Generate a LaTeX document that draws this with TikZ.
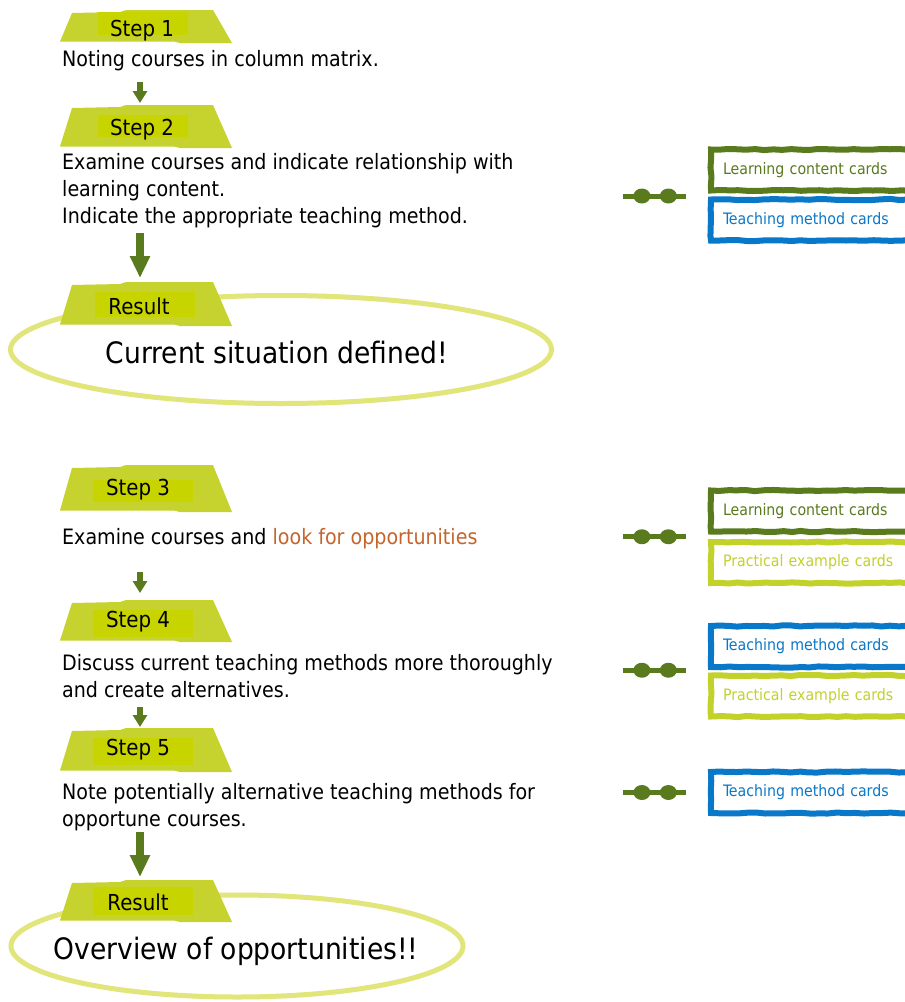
\documentclass[tikz,border=0pt]{standalone}
\usepackage{fontspec}
\setmainfont{DejaVu Sans Condensed}
\usetikzlibrary{arrows.meta,shapes.geometric,decorations.pathmorphing,decorations.markings,calc}
\definecolor{trapc}{HTML}{C6D22E}
\definecolor{innerc}{HTML}{C8D400}
\definecolor{dgreen}{HTML}{5A7A1E}
\definecolor{bluec}{HTML}{0A78C8}
\definecolor{yelc}{HTML}{C3D12B}
\definecolor{orangec}{HTML}{C5652B}
\definecolor{ellc}{HTML}{E2E57A}
\newcommand\trapbg[6]{%
  \fill[trapc] (72,{#1+3}) -- (120,{#1+2}) -- (126,#1) -- (213,#1) -- (232,#2) -- (180,#2) -- (174,{#2-1.5}) -- (60,{#2-1.5}) -- cycle;
  \fill[innerc] (#3,#4) rectangle (#5,#6);}
\tikzset{
  body/.style={anchor=base west, inner sep=0pt, font=\fontsize{21.2}{25}\selectfont, text=black},
  steplabel/.style={anchor=base, inner sep=0pt, font=\fontsize{22}{26}\selectfont, text=black},
  resulttext/.style={anchor=base, inner sep=0pt, font=\fontsize{29.5}{34}\selectfont, text=black},
  resultring/.style={ellipse, draw=ellc, line width=5pt, inner sep=0pt},
  smallarrow/.style={draw=dgreen, line width=6pt, -{Triangle[width=14pt,length=12pt,fill=dgreen]}},
  bigarrow/.style={draw=dgreen, line width=8pt, -{Triangle[width=19pt,length=22pt,fill=dgreen]}},
  dblarrow/.style={draw=dgreen, line width=5pt, postaction={decorate},
    decoration={markings,
      mark=at position 0.30 with {\fill[dgreen] (0,0) ellipse (8.5pt and 7.5pt);},
      mark=at position 0.72 with {\fill[dgreen] (0,0) ellipse (8.5pt and 7.5pt);}}},
  card/.style={draw=#1, text=#1, line width=6pt, anchor=west, minimum height=41pt,
    text width=200pt, inner xsep=12pt, align=left, font=\fontsize{15.75}{18}\selectfont,
    decorate, decoration={random steps, segment length=9pt, amplitude=0.6pt}},
}
\begin{document}
\begin{tikzpicture}[x=1pt,y=-1pt]
\useasboundingbox (0,0) rectangle (905,1002);
\clip (0,0) rectangle (905,1002);
\fill[white] (0,0) rectangle (905,1002);

% result rings
\node[resultring, minimum width=541pt, minimum height=108pt] (e1) at (281,349.5) {};
\node[resultring, minimum width=452pt, minimum height=102pt] (e2) at (237,946) {};

% trapezoid backgrounds
\trapbg{10}{43}{98}{12}{188}{35}
\trapbg{105}{148}{98}{115}{188}{137}
\trapbg{282}{326}{95}{292}{195}{317}
\trapbg{465}{512}{93}{480}{193}{502}
\trapbg{600}{642}{93}{610}{193}{637}
\trapbg{728}{772}{93}{738}{193}{765}
\trapbg{880}{922}{93}{887}{193}{915}

% step labels
\node[steplabel] (s1) at (142,36) {Step 1};
\node[steplabel] (s2) at (142,135) {Step 2};
\node[steplabel] (r1) at (139,314) {Result};
\node[steplabel] (s3) at (138,495) {Step 3};
\node[steplabel] (s4) at (138,627) {Step 4};
\node[steplabel] (s5) at (138,755) {Step 5};
\node[steplabel] (r2) at (138,910) {Result};

% body text
\node[body] (n1) at (62,66) {Noting courses in column matrix.};
\node[body] (n2a) at (62,169) {Examine courses and indicate relationship with};
\node[body] (n2b) at (62,196) {learning content.};
\node[body] (n2c) at (62,223) {Indicate the appropriate teaching method.};
\node[body] (n3) at (62,544) {Examine courses and \textcolor{orangec}{look for opportunities}};
\node[body] (n4a) at (62,670) {Discuss current teaching methods more thoroughly};
\node[body] (n4b) at (62,697) {and create alternatives.};
\node[body] (n5a) at (62,799) {Note potentially alternative teaching methods for};
\node[body] (n5b) at (62,826) {opportune courses.};

% result texts
\node[resulttext] (t1) at (277,363) {Current situation defined!};
\node[resulttext] (t2) at (236,959) {Overview of opportunities!!};

% vertical arrows
\draw[smallarrow] ($(n1.base -| s1.base)+(-2,16)$) -- ($(s2.base)+(-2,-32)$);
\draw[bigarrow] ($(n2c.base -| s1.base)+(-2,10)$) -- ($(r1.base)+(1,-36)$);
\draw[smallarrow] ($(n3.base -| s3.base)+(2,28)$) -- ($(s4.base)+(2,-34)$);
\draw[smallarrow] ($(n4b.base -| s4.base)+(2,10)$) -- ($(s5.base)+(2,-28)$);
\draw[bigarrow] ($(n5b.base -| s5.base)+(2,6)$) -- ($(r2.base)+(2,-33)$);

% cards
\node[card=dgreen] (lc1) at (708,170) {Learning content cards};
\node[card=bluec] (tm1) at (708,220) {Teaching method cards};
\node[card=dgreen] (lc2) at (708,511) {Learning content cards};
\node[card=yelc] (pe2) at (708,562.5) {Practical example cards};
\node[card=bluec] (tm3) at (708,646.5) {Teaching method cards};
\node[card=yelc] (pe3) at (708,696) {Practical example cards};
\node[card=bluec] (tm4) at (708,792.5) {Teaching method cards};

% double arrows
\draw[dblarrow] ($(lc1.south west)!0.5!(tm1.north west)+(-85,1)$) -- ++(63,0);
\draw[dblarrow] ($(lc2.south west)!0.5!(pe2.north west)+(-85,0)$) -- ++(63,0);
\draw[dblarrow] ($(tm3.south west)!0.5!(pe3.north west)+(-85,-1)$) -- ++(63,0);
\draw[dblarrow] ($(tm4.west)+(-85,0)$) -- ++(63,0);
\end{tikzpicture}
\end{document}
